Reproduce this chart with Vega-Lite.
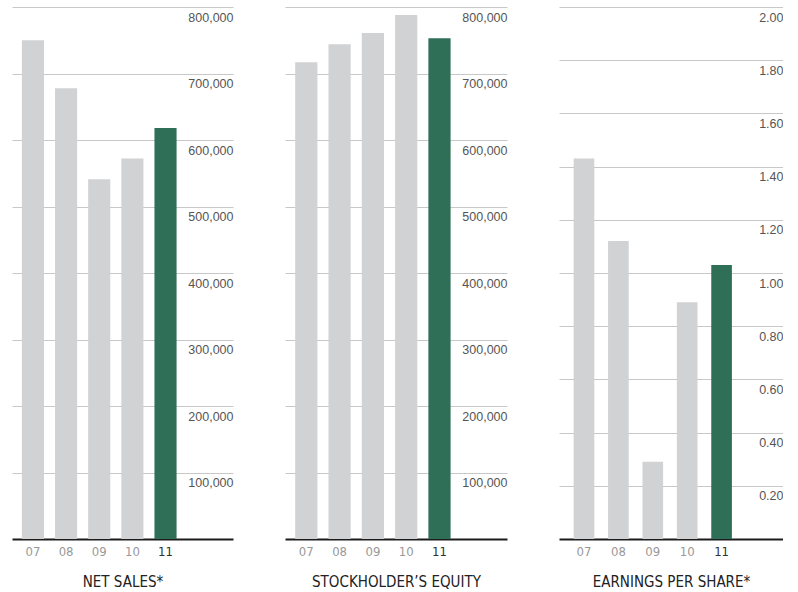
{
  "$schema": "https://vega.github.io/schema/vega-lite/v6.json",
  "background": "white",
  "padding": {"left": 12, "top": 7, "right": 0, "bottom": 0},
  "spacing": 52,
  "data": {
    "values": [
      {"year": "07", "net_sales": 750000, "equity": 717000, "eps": 1.43},
      {"year": "08", "net_sales": 678000, "equity": 744000, "eps": 1.12},
      {"year": "09", "net_sales": 541000, "equity": 761000, "eps": 0.29},
      {"year": "10", "net_sales": 572000, "equity": 788000, "eps": 0.89},
      {"year": "11", "net_sales": 618000, "equity": 753000, "eps": 1.03}
    ]
  },
  "config": {
    "view": {"stroke": null},
    "axisX": {
      "labelAngle": 0,
      "ticks": false,
      "domainColor": "#1c1c1c",
      "domainWidth": 2,
      "labelPadding": 6,
      "labelFont": "DejaVu Sans Condensed, Liberation Sans, sans-serif",
      "labelFontSize": 13,
      "labelColor": {"condition": {"test": "datum.value == '11'", "value": "#333333"}, "value": "#999999"},
      "titleFont": "DejaVu Sans Condensed, Liberation Sans, sans-serif",
      "titleFontSize": 15,
      "titleFontWeight": "normal",
      "titleColor": "#222222",
      "titlePadding": 16
    },
    "axisY": {
      "orient": "right",
      "domain": false,
      "ticks": false,
      "tickSize": 0,
      "labelAlign": "right",
      "labelBaseline": "top",
      "labelPadding": 0,
      "labelOffset": 4,
      "labelFont": "Liberation Sans",
      "labelFontSize": 12.5,
      "labelColor": "#555555",
      "gridColor": "#c8c8c8",
      "gridWidth": 1,
      "title": null
    }
  },
  "hconcat": [
    {
      "width": 221,
      "height": 532,
      "mark": {"type": "bar"},
      "encoding": {
        "x": {
          "field": "year", "type": "nominal", "sort": null,
          "scale": {"paddingInner": 0.333, "paddingOuter": 1.175, "align": 0.149},
          "axis": {"title": "NET SALES*"}
        },
        "y": {
          "field": "net_sales", "type": "quantitative",
          "scale": {"domain": [0, 800000], "nice": false},
          "axis": {"orient": "right", "values": [100000, 200000, 300000, 400000, 500000, 600000, 700000, 800000], "format": ",.0f"}
        },
        "color": {
          "condition": {"test": "datum.year == '11'", "value": "#2f6f57"},
          "value": "#d1d2d4"
        }
      }
    },
    {
      "width": 222,
      "height": 532,
      "mark": {"type": "bar"},
      "encoding": {
        "x": {
          "field": "year", "type": "nominal", "sort": null,
          "scale": {"paddingInner": 0.333, "paddingOuter": 1.19, "align": 0.153},
          "axis": {"title": "STOCKHOLDER’S EQUITY"}
        },
        "y": {
          "field": "equity", "type": "quantitative",
          "scale": {"domain": [0, 800000], "nice": false},
          "axis": {"orient": "right", "values": [100000, 200000, 300000, 400000, 500000, 600000, 700000, 800000], "format": ",.0f"}
        },
        "color": {
          "condition": {"test": "datum.year == '11'", "value": "#2f6f57"},
          "value": "#d1d2d4"
        }
      }
    },
    {
      "width": 224,
      "height": 532,
      "mark": {"type": "bar"},
      "encoding": {
        "x": {
          "field": "year", "type": "nominal", "sort": null,
          "scale": {"paddingInner": 0.4, "paddingOuter": 0.956, "align": 0.223},
          "axis": {"title": "EARNINGS PER SHARE*"}
        },
        "y": {
          "field": "eps", "type": "quantitative",
          "scale": {"domain": [0, 2], "nice": false},
          "axis": {"orient": "right", "values": [0.2, 0.4, 0.6, 0.8, 1.0, 1.2, 1.4, 1.6, 1.8, 2.0], "format": ".2f"}
        },
        "color": {
          "condition": {"test": "datum.year == '11'", "value": "#2f6f57"},
          "value": "#d1d2d4"
        }
      }
    }
  ]
}
